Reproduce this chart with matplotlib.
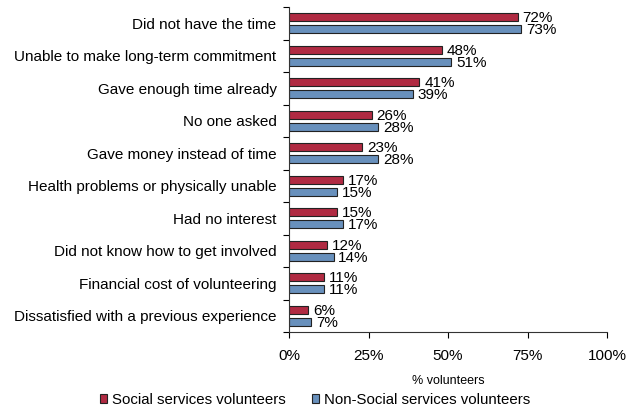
import matplotlib
matplotlib.use("Agg")
import matplotlib.pyplot as plt
from matplotlib.patches import Patch
import numpy as np

plt.rcParams['font.family'] = ['Liberation Sans', 'DejaVu Sans']

categories = [
    "Did not have the time",
    "Unable to make long-term commitment",
    "Gave enough time already",
    "No one asked",
    "Gave money instead of time",
    "Health problems or physically unable",
    "Had no interest",
    "Did not know how to get involved",
    "Financial cost of volunteering",
    "Dissatisfied with a previous experience",
]
social = [72, 48, 41, 26, 23, 17, 15, 12, 11, 6]
non_social = [73, 51, 39, 28, 28, 15, 17, 14, 11, 7]
series_names = ["Social services volunteers", "Non-Social services volunteers"]
x_ticks = [0, 25, 50, 75, 100]

red = "#B02A42"
blue = "#6890BC"

fig = plt.figure(figsize=(6.37, 4.08), dpi=100)
ax = fig.add_axes([289 / 637, 1 - 332 / 408, (607 - 289) / 637, (332 - 7) / 408])

n = len(categories)
y = np.arange(n)
h = 0.25
off = 0.19
ax.barh(y - off, social, height=h, color=red, edgecolor="#222222", linewidth=0.8)
ax.barh(y + off, non_social, height=h, color=blue, edgecolor="#222222", linewidth=0.8)

for yi, v in zip(y, social):
    ax.text(v + 1.5, yi - off + 0.03, f"{v}%", va="center", ha="left", fontsize=11)
for yi, v in zip(y, non_social):
    ax.text(v + 1.5, yi + off + 0.03, f"{v}%", va="center", ha="left", fontsize=11)

ax.set_ylim(n - 0.5, -0.5)
ax.set_xlim(0, 100)
ax.set_yticks(np.arange(-0.5, n, 1))
ax.set_yticklabels([])
ax.set_yticks(y, minor=True)
ax.set_yticklabels(categories, minor=True, fontsize=11)
ax.tick_params(axis="y", which="minor", length=0, pad=9)
ax.tick_params(axis="y", which="major", length=4, direction="out", width=0.8)

ax.set_xticks(x_ticks)
ax.set_xticklabels([f"{t}%" for t in x_ticks], fontsize=11)
ax.tick_params(axis="x", length=4, direction="out", width=0.8, pad=8)
ax.set_xlabel("% volunteers", fontsize=9, labelpad=9)

for s in ["top", "right"]:
    ax.spines[s].set_visible(False)
for s in ["left", "bottom"]:
    ax.spines[s].set_color("#333333")
    ax.spines[s].set_linewidth(0.8)

handles = [Patch(facecolor=red, edgecolor="#222222", linewidth=0.8),
           Patch(facecolor=blue, edgecolor="#222222", linewidth=0.8)]
fig.legend(handles, series_names, loc="center", bbox_to_anchor=(315 / 637, 1 - 400 / 408),
           ncol=2, frameon=False, fontsize=10.8, handlelength=0.45, handleheight=0.5,
           handletextpad=0.35, columnspacing=1.75, borderpad=0)

fig.savefig("out.png", dpi=100)
